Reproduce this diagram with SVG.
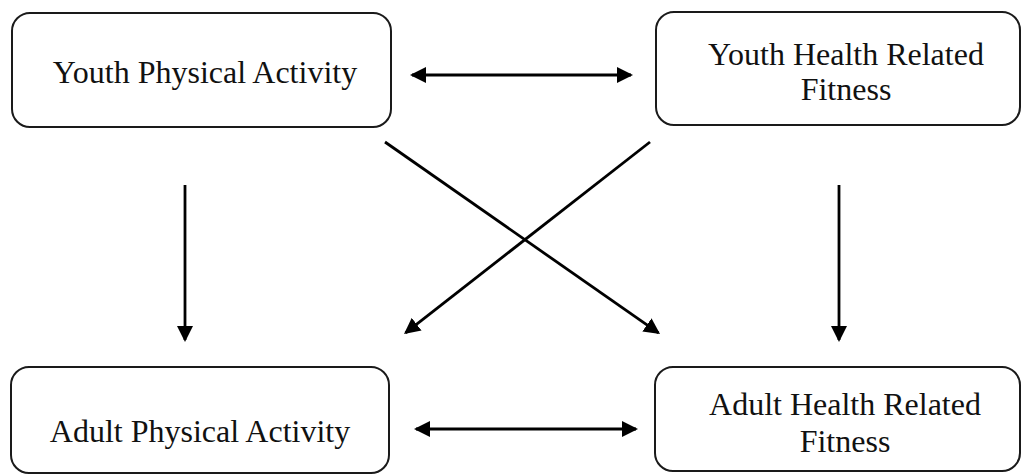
<svg xmlns="http://www.w3.org/2000/svg" width="1022" height="475" viewBox="0 0 1022 475">
  <defs>
    <style>
      .box { fill: #ffffff; stroke: #1a1a1a; stroke-width: 2; }
      .label { font-family: "Liberation Serif", "Times New Roman", serif; font-size: 32px; fill: #111111; text-anchor: middle; }
      .link { stroke: #000000; stroke-width: 2.8; fill: none; marker-end: url(#head); }
      .both { marker-start: url(#head); }
    </style>
    <!-- filled triangular arrowhead; tip sits 2px beyond the line end -->
    <marker id="head" markerUnits="userSpaceOnUse" markerWidth="17" markerHeight="16" refX="14" refY="8" orient="auto-start-reverse" viewBox="0 0 17 16">
      <path d="M0,0 L16,8 L0,16 Z" fill="#000000"/>
    </marker>
  </defs>

  <rect x="0" y="0" width="1022" height="475" fill="#ffffff"/>

  <g id="youth-physical-activity">
    <rect class="box" x="12" y="13" width="379" height="114" rx="18" ry="18"/>
    <text class="label" x="205" y="83">Youth Physical Activity</text>
  </g>

  <g id="youth-health-related-fitness">
    <rect class="box" x="656" y="12" width="364" height="113" rx="18" ry="18"/>
    <text class="label" x="846" y="65">Youth Health Related</text>
    <text class="label" x="846" y="100">Fitness</text>
  </g>

  <g id="adult-physical-activity">
    <rect class="box" x="11" y="367" width="378" height="106" rx="18" ry="18"/>
    <text class="label" x="200" y="442">Adult Physical Activity</text>
  </g>

  <g id="adult-health-related-fitness">
    <rect class="box" x="655" y="367" width="365" height="104" rx="18" ry="18"/>
    <text class="label" x="845" y="415">Adult Health Related</text>
    <text class="label" x="845" y="452">Fitness</text>
  </g>

  <g id="connectors">
    <!-- reciprocal links -->
    <line class="link both" x1="412" y1="75" x2="631" y2="75"/>
    <line class="link both" x1="416" y1="429" x2="636" y2="429"/>
    <!-- tracking from youth to adult -->
    <line class="link" x1="185" y1="185" x2="185" y2="340"/>
    <line class="link" x1="839" y1="185" x2="839" y2="340"/>
    <!-- cross links -->
    <line class="link" x1="385" y1="142" x2="658.4" y2="332.9"/>
    <line class="link" x1="650" y1="142" x2="405.6" y2="332.8"/>
  </g>
</svg>
